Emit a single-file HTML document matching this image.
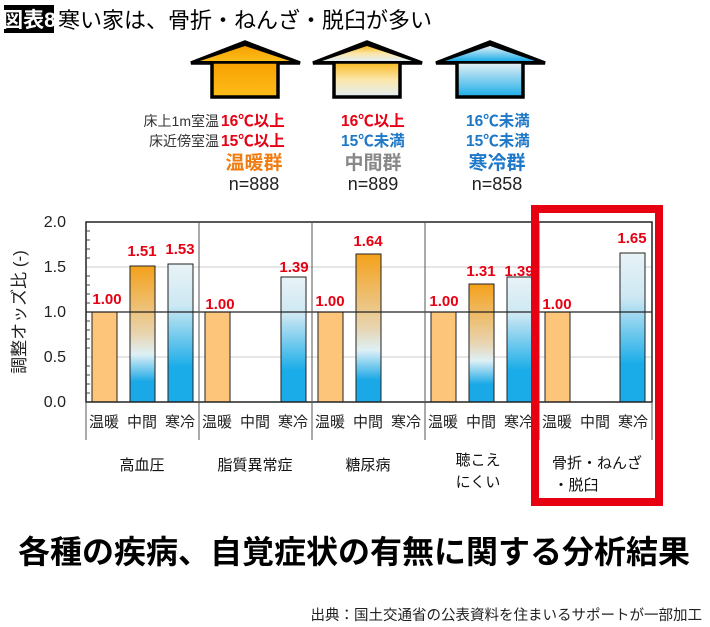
<!DOCTYPE html>
<html><head><meta charset="utf-8"><style>
html,body{margin:0;padding:0;background:#fff;}
svg{display:block;font-family:"Liberation Sans","Noto Sans CJK JP",sans-serif;}
</style></head><body>
<svg width="710" height="627" viewBox="0 0 710 627" xmlns="http://www.w3.org/2000/svg">
<defs>
<linearGradient id="hw" x1="0" y1="0" x2="0" y2="1"><stop offset="0" stop-color="#f7a000"/><stop offset="1" stop-color="#fdbd1a"/></linearGradient>
<linearGradient id="hm" x1="0" y1="0" x2="0" y2="1"><stop offset="0" stop-color="#f9b820"/><stop offset="0.5" stop-color="#fbe6a8"/><stop offset="1" stop-color="#e2eef5"/></linearGradient>
<linearGradient id="hc" x1="0" y1="0" x2="0" y2="1"><stop offset="0" stop-color="#e8f2f6"/><stop offset="1" stop-color="#1aace8"/></linearGradient>
<linearGradient id="bm" x1="0" y1="0" x2="0" y2="1"><stop offset="0" stop-color="#f5a11a"/><stop offset="0.5" stop-color="#e8d4b0"/><stop offset="0.65" stop-color="#def0f6"/><stop offset="0.85" stop-color="#1ba8e6"/><stop offset="1" stop-color="#1ba8e6"/></linearGradient>
<linearGradient id="bc" x1="0" y1="0" x2="0" y2="1"><stop offset="0" stop-color="#e8f3f6"/><stop offset="0.3" stop-color="#cde8f3"/><stop offset="0.75" stop-color="#19ace8"/><stop offset="1" stop-color="#19ace8"/></linearGradient>
</defs>
<rect x="4" y="5" width="50" height="28" fill="#000"/>
<text x="29" y="27" font-size="21" fill="#fff" text-anchor="middle" font-weight="bold">図表8</text>
<text x="58" y="28" font-size="22" fill="#000">寒い家は、骨折・ねんざ・脱臼が多い</text>

<g stroke="#000" stroke-width="3.5">
<polygon points="191,63 245,42 300,63" fill="#000"/>
<rect x="212" y="62" width="66" height="35" fill="url(#hw)"/>
<polygon points="313,63 367,42 422,63" fill="#000"/>
<rect x="334" y="62" width="66" height="35" fill="url(#hm)"/>
<polygon points="436,63 490,42 545,63" fill="#000"/>
<rect x="457" y="62" width="66" height="35" fill="url(#hc)"/>
</g>
<polygon points="200,61 245,46 290,61" fill="url(#hw)"/>
<polygon points="322,61 367,46 412,61" fill="url(#hm)"/>
<polygon points="445,61 490,46 535,61" fill="url(#hc)"/>

<g font-size="14" fill="#333" text-anchor="end"><text x="219" y="126">床上1m室温</text><text x="219" y="146">床近傍室温</text></g>
<g font-size="15.5" font-weight="bold">
<text x="221" y="126" fill="#e60012">16℃以上</text><text x="221" y="146" fill="#e60012">15℃以上</text>
<text x="341" y="126" fill="#e60012">16℃以上</text><text x="341" y="146" fill="#1e78c8">15℃未満</text>
<text x="466" y="126" fill="#1e78c8">16℃未満</text><text x="466" y="146" fill="#1e78c8">15℃未満</text>
</g>
<g font-size="19" font-weight="bold" text-anchor="middle">
<text x="254" y="169" fill="#f07d14">温暖群</text><text x="373" y="169" fill="#888">中間群</text><text x="497" y="169" fill="#1e78c8">寒冷群</text>
</g>
<g font-size="18" fill="#222" text-anchor="middle">
<text x="254" y="190">n=888</text><text x="373" y="190">n=889</text><text x="497" y="190">n=858</text>
</g>

<g stroke="#ccc" stroke-width="1"><line x1="86" y1="267" x2="652" y2="267"/><line x1="86" y1="357" x2="652" y2="357"/></g>
<g font-size="16" fill="#222" text-anchor="end">
<text x="66" y="227">2.0</text><text x="66" y="272">1.5</text><text x="66" y="317">1.0</text><text x="66" y="362">0.5</text><text x="66" y="407">0.0</text>
</g>
<text transform="translate(25,312) rotate(-90)" font-size="17" fill="#222" text-anchor="middle">調整オッズ比 (-)</text>

<g stroke="#222" stroke-width="1">
<rect x="92" y="312" width="25" height="90" fill="#fdc57a"/>
<rect x="130" y="266" width="25" height="136" fill="url(#bm)"/>
<rect x="168" y="264" width="25" height="138" fill="url(#bc)"/>
<rect x="205" y="312" width="25" height="90" fill="#fdc57a"/>
<rect x="281" y="277" width="25" height="125" fill="url(#bc)"/>
<rect x="318" y="312" width="25" height="90" fill="#fdc57a"/>
<rect x="356" y="254" width="25" height="148" fill="url(#bm)"/>
<rect x="431" y="312" width="25" height="90" fill="#fdc57a"/>
<rect x="469" y="284" width="25" height="118" fill="url(#bm)"/>
<rect x="507" y="277" width="25" height="125" fill="url(#bc)"/>
<rect x="545" y="312" width="25" height="90" fill="#fdc57a"/>
<rect x="620" y="253" width="25" height="149" fill="url(#bc)"/>
</g>
<line x1="86" y1="312" x2="652" y2="312" stroke="#222" stroke-width="1.3"/>
<rect x="86" y="222" width="566" height="180" fill="none" stroke="#222" stroke-width="1.5"/>
<g stroke="#555" stroke-width="1">
<line x1="199" y1="222" x2="199" y2="440"/><line x1="312" y1="222" x2="312" y2="440"/><line x1="425" y1="222" x2="425" y2="440"/><line x1="539" y1="222" x2="539" y2="440"/>
<line x1="86" y1="402" x2="86" y2="440"/><line x1="652" y1="402" x2="652" y2="440"/>
</g>
<g stroke="#444" stroke-width="1">
<line x1="86" y1="231" x2="90" y2="231"/><line x1="86" y1="240" x2="90" y2="240"/><line x1="86" y1="249" x2="90" y2="249"/><line x1="86" y1="258" x2="90" y2="258"/><line x1="86" y1="276" x2="90" y2="276"/><line x1="86" y1="285" x2="90" y2="285"/><line x1="86" y1="294" x2="90" y2="294"/><line x1="86" y1="303" x2="90" y2="303"/><line x1="86" y1="321" x2="90" y2="321"/><line x1="86" y1="330" x2="90" y2="330"/><line x1="86" y1="339" x2="90" y2="339"/><line x1="86" y1="348" x2="90" y2="348"/><line x1="86" y1="366" x2="90" y2="366"/><line x1="86" y1="375" x2="90" y2="375"/><line x1="86" y1="384" x2="90" y2="384"/><line x1="86" y1="393" x2="90" y2="393"/>
</g>
<g font-size="15" font-weight="bold" fill="#e60012" text-anchor="middle">
<text x="107" y="304">1.00</text><text x="142" y="256">1.51</text><text x="180" y="254">1.53</text>
<text x="220" y="309">1.00</text><text x="294" y="272">1.39</text>
<text x="330" y="306">1.00</text><text x="368" y="246">1.64</text>
<text x="444" y="306">1.00</text><text x="481" y="276">1.31</text><text x="519" y="276">1.39</text>
<text x="557" y="309">1.00</text><text x="632" y="243">1.65</text>
</g>
<g font-size="15" fill="#222" text-anchor="middle">
<text x="104" y="427">温暖</text><text x="142" y="427">中間</text><text x="180" y="427">寒冷</text>
<text x="217" y="427">温暖</text><text x="255" y="427">中間</text><text x="293" y="427">寒冷</text>
<text x="330" y="427">温暖</text><text x="368" y="427">中間</text><text x="406" y="427">寒冷</text>
<text x="443" y="427">温暖</text><text x="481" y="427">中間</text><text x="519" y="427">寒冷</text>
<text x="557" y="427">温暖</text><text x="595" y="427">中間</text><text x="633" y="427">寒冷</text>
</g>
<g font-size="15" fill="#111" text-anchor="middle">
<text x="142" y="470">高血圧</text><text x="255" y="470">脂質異常症</text><text x="368" y="470">糖尿病</text>
<text x="478" y="465">聴こえ</text><text x="478" y="487">にくい</text>
<text x="597" y="468">骨折・ねんざ</text><text x="576" y="490">・脱臼</text>
</g>
<rect x="535" y="209" width="124" height="293" fill="none" stroke="#e60012" stroke-width="8"/>

<text x="354" y="563" font-size="32" font-weight="bold" fill="#000" text-anchor="middle">各種の疾病、自覚症状の有無に関する分析結果</text>
<text x="702" y="620" font-size="14.5" fill="#222" text-anchor="end">出典：国土交通省の公表資料を住まいるサポートが一部加工</text>
</svg>
</body></html>
